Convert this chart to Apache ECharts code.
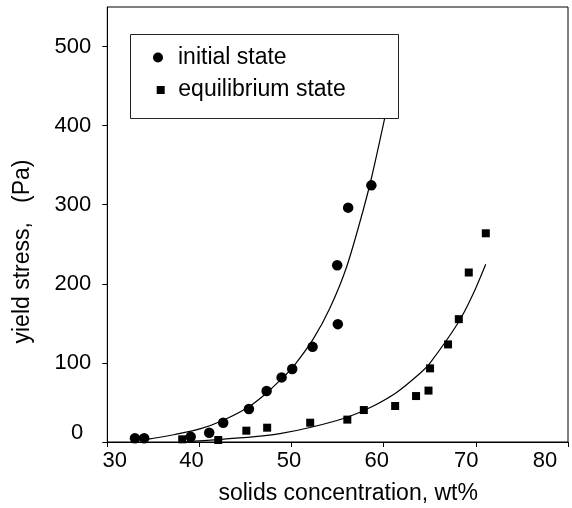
<!DOCTYPE html>
<html>
<head>
<meta charset="utf-8">
<script src="https://cdn.jsdelivr.net/npm/echarts@6/dist/echarts.min.js"></script>
<style>
html,body{margin:0;padding:0;background:#fff;}
#chart{width:572px;height:508px;}
</style>
</head>
<body>
<div id="chart"></div>
<script>
// ---- data ----
const xTickValues = [30, 40, 50, 60, 70, 80];
const xTickLabels = ['30', '40', '50', '60', '70', '80'];
const yTickValues = [0, 100, 200, 300, 400, 500];
const yTickLabels = ['0', '100', '200', '300', '400', '500'];

const initialX = [33.0, 34.0, 39.05, 41.06, 42.58, 45.37, 47.29, 48.92, 50.07, 52.28, 55.02, 54.95, 56.14, 58.66];
const initialY = [4.7, 4.7, 6.7, 11.7, 24.4, 41.7, 64.4, 81.7, 92.2, 120.3, 149.0, 223.5, 296.3, 324.5];

const equilX = [38.13, 42.04, 45.09, 47.35, 52.02, 56.05, 57.84, 61.24, 63.51, 64.86, 65.03, 66.98, 68.15, 69.23, 71.08];
const equilY = [3.4, 2.5, 14.3, 18.1, 24.4, 28.3, 40.4, 45.5, 58.1, 65.0, 93.1, 123.4, 155.3, 214.3, 263.9];

// fitted curves
const fitInitialX = [33.0, 34.45, 37.34, 40.05, 42.58, 45.37, 47.29, 48.92, 50.17, 52.34, 54.15, 55.97, 57.77, 58.71, 60.09];
const fitInitialY = [2.5, 3.6, 9.5, 16.5, 27.5, 44.6, 62.0, 80.0, 95.1, 130.0, 169.0, 221.3, 293.0, 336.0, 408.7];

const fitEquilX = [38.43, 42.0, 46.02, 48.73, 52.34, 55.97, 58.71, 61.39, 63.92, 65.0, 68.15, 69.70, 71.07];
const fitEquilY = [0.5, 3.0, 6.7, 10.5, 19.3, 31.0, 44.6, 62.7, 86.7, 99.4, 152.0, 187.0, 224.7];

const seriesNames = ['initial state', 'equilibrium state'];
const xTitle = 'solids concentration, wt%';
const yTitle = 'yield stress,   (Pa)';

// ---- styling (label nudges to mimic the reference) ----
const FONT = "'Liberation Sans', Arial, Helvetica, sans-serif";
const xLabelPad = [[0,0,0,15], [0,16,0,0], [0,5,0,0], [0,14,0,0], [0,19,0,0], [0,46,0,0]];
const yLabelPad = [[0,8,19,0], [0,0,0,0], [0,0,0,0], [0,0,0,0], [0,0,0,0], [0,0,0,0]];

const zip = (a, b) => a.map((v, i) => [v, b[i]]);

const xRich = {}, yRich = {};
xLabelPad.forEach((p, i) => { xRich['x' + i] = {padding: p, fontSize: 22, fontFamily: FONT, color: '#000'}; });
yLabelPad.forEach((p, i) => { yRich['y' + i] = {padding: p, fontSize: 22, fontFamily: FONT, color: '#000'}; });

const chart = echarts.init(document.getElementById('chart'), null, {renderer: 'canvas'});
chart.setOption({
  animation: false,
  backgroundColor: '#fff',
  grid: {left: 107.3, right: 4, top: 7, bottom: 66, show: true, borderColor: '#000', borderWidth: 1, outerBoundsMode: 'none', containLabel: false},
  xAxis: {
    type: 'value', min: 30, max: 80, interval: 10,
    axisLine: {show: true, lineStyle: {color: '#000', width: 1}},
    axisTick: {show: true, length: 5, lineStyle: {color: '#000'}, customValues: xTickValues},
    splitLine: {show: false},
    axisLabel: {
      customValues: xTickValues, margin: 8, color: '#000', fontSize: 22, fontFamily: FONT,
      formatter: v => { const i = xTickValues.indexOf(v); return '{x' + i + '|' + xTickLabels[i] + '}'; },
      rich: xRich
    },
    name: xTitle, nameLocation: 'middle', nameGap: 40,
    nameTextStyle: {fontSize: 23, fontFamily: FONT, color: '#000', padding: [0, 0, 0, 21]}
  },
  yAxis: {
    type: 'value', min: 0, max: 550, interval: 100,
    axisLine: {show: true, lineStyle: {color: '#000', width: 1}},
    axisTick: {show: true, length: 5, lineStyle: {color: '#000'}, customValues: yTickValues},
    splitLine: {show: false},
    axisLabel: {
      customValues: yTickValues, margin: 16, color: '#000', fontSize: 22, fontFamily: FONT,
      formatter: v => { const i = yTickValues.indexOf(v); return '{y' + i + '|' + yTickLabels[i] + '}'; },
      rich: yRich
    },
    name: yTitle, nameLocation: 'middle', nameGap: 73,
    nameTextStyle: {fontSize: 23, fontFamily: FONT, color: '#000', padding: [0, 54, 0, 0]}
  },
  legend: [
    {data: [seriesNames[0]], left: 153, top: 46, padding: 0, itemWidth: 10, itemHeight: 10, icon: 'circle',
     selectedMode: false, z: 10,
     textStyle: {fontSize: 23, lineHeight: 23, fontFamily: FONT, color: '#000', padding: [0, 0, 0, 10]}},
    {data: [seriesNames[1]], left: 156.7, top: 70.5, padding: 0, itemWidth: 8, itemHeight: 8, icon: 'rect',
     selectedMode: false, z: 10,
     textStyle: {fontSize: 23, lineHeight: 23, fontFamily: FONT, color: '#000', padding: [0, 0, 16, 8.6]}}
  ],
  graphic: [
    {type: 'rect', z: 5, shape: {x: 130.5, y: 34.5, width: 268, height: 84},
     style: {fill: '#fff', stroke: '#222', lineWidth: 1}}
  ],
  series: [
    {name: 'fit initial', type: 'line', data: zip(fitInitialX, fitInitialY), showSymbol: false, symbol: 'none',
     smooth: 0.3, lineStyle: {color: '#000', width: 1.2}, z: 2, silent: true},
    {name: 'fit equilibrium', type: 'line', data: zip(fitEquilX, fitEquilY), showSymbol: false, symbol: 'none',
     smooth: 0.3, lineStyle: {color: '#000', width: 1.2}, z: 2, silent: true},
    {name: seriesNames[0], type: 'scatter', data: zip(initialX, initialY), symbol: 'circle', symbolSize: 10.5,
     itemStyle: {color: '#000', opacity: 1}, z: 3},
    {name: seriesNames[1], type: 'scatter', data: zip(equilX, equilY), symbol: 'rect', symbolSize: 8,
     itemStyle: {color: '#000', opacity: 1}, z: 3}
  ]
});
</script>
</body>
</html>
